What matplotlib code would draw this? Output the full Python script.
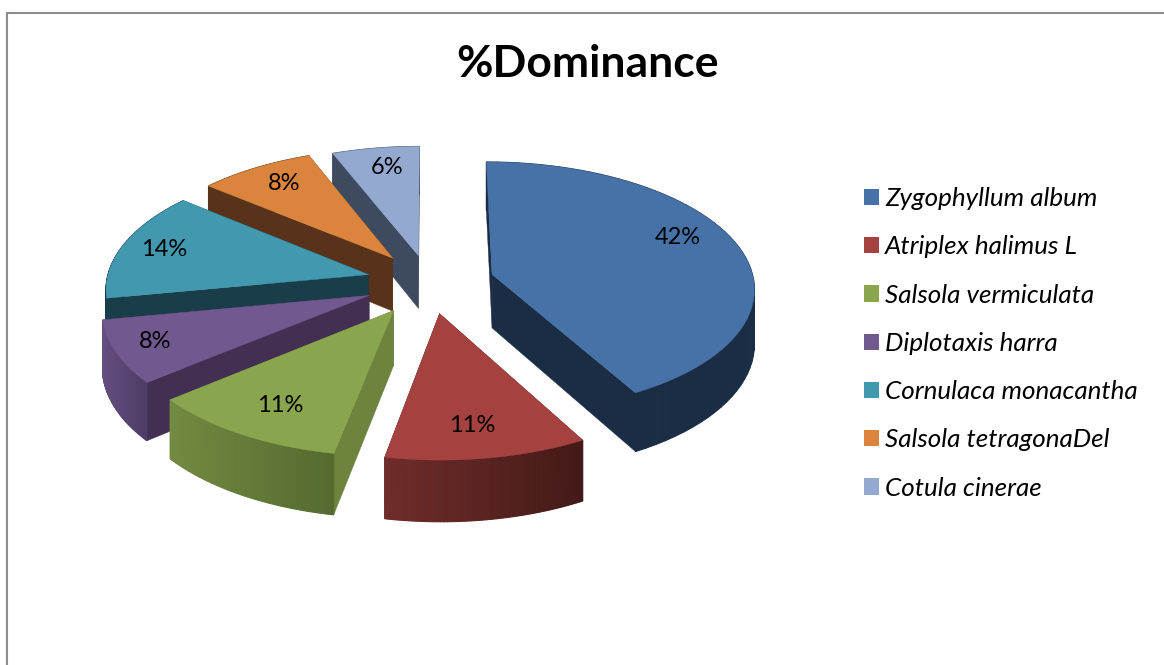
import numpy as np
import matplotlib
matplotlib.use("Agg")
import matplotlib.pyplot as plt
from matplotlib.patches import Polygon, Patch
from matplotlib.colors import to_rgb

plt.rcParams['font.family'] = ['Lato', 'DejaVu Sans']

# ---- data ----
species = ["Zygophyllum album", "Atriplex halimus L", "Salsola vermiculata",
           "Diplotaxis harra", "Cornulaca monacantha", "Salsola tetragonaDel",
           "Cotula cinerae"]
dominance = [42, 11, 11, 8, 14, 8, 6]
title = "%Dominance"

# ---- style ----
top_colors = ["#4672A8", "#A5423F", "#89A54E", "#71588F", "#4198AF", "#DB843D", "#93A9CF"]
wall_colors = ["#1A2D45", "#4A1C1A", "#6E843E", "#422F52", "#1A3D4A", "#58321A", "#3E4A60"]
arc_left = ["#1A2D45", "#6F2C2A", "#728A42", "#654E80", "#1A3D4A", "#58321A", "#3E4A60"]
arc_right = ["#1A2D45", "#431A18", "#546A2F", "#4C3B64", "#1A3D4A", "#58321A", "#3E4A60"]
explode = [0.25, 0.25, 0.26, 0.25, 0.24, 0.24, 0.22]
label_xy = [(678, 237), (472, 425), (280, 405), (155, 341), (164, 250), (284, 183), (387, 168)]
CX, CY, RX, RY, K, DEPTH = 429, 282, 262, 125, 0.10, 54

fig = plt.figure(figsize=(11.64, 6.65), dpi=100)
ax = fig.add_axes([0, 0, 1, 1])
ax.set_xlim(0, 1164)
ax.set_ylim(665, 0)
ax.axis("off")

ax.plot([6.5, 6.5, 1170], [670, 12.5, 12.5], color="#8C8C8C", lw=1.5, clip_on=True)


def project(u, v, drop=0.0):
    s = 1.0 / (1.0 - K * v)
    return np.column_stack([CX + RX * u * s, CY + RY * v * s + drop * s])


def mix(a, b, t):
    a, b = np.array(to_rgb(a)), np.array(to_rgb(b))
    return tuple(a + (b - a) * t)


fractions = np.array(dominance, float) / sum(dominance)
edges = np.concatenate([[0], np.cumsum(fractions)]) * 2 * np.pi
order = [6, 5, 4, 3, 2, 1, 0]
z = 2
for i in order:
    a0, a1 = edges[i], edges[i + 1]
    mid = (a0 + a1) / 2
    ou, ov = explode[i] * np.sin(mid), -explode[i] * np.cos(mid)
    th = np.linspace(a0, a1, 60)
    au, av = ou + np.sin(th), ov - np.cos(th)
    apex_top = project(np.array([ou]), np.array([ov]))
    apex_bot = project(np.array([ou]), np.array([ov]), DEPTH)
    arc_top = project(au, av)
    arc_bot = project(au, av, DEPTH)
    # radial walls
    for k in (0, -1):
        ax.add_patch(Polygon(np.vstack([apex_top, arc_top[k], arc_bot[k], apex_bot]),
                             closed=True, fc=wall_colors[i], ec=wall_colors[i], lw=0.3, zorder=z))
    z += 1
    # outer wall, shaded left to right
    xmin, xmax = arc_top[:, 0].min(), arc_top[:, 0].max()
    for j in range(len(th) - 1):
        t = ((arc_top[j, 0] + arc_top[j + 1, 0]) / 2 - xmin) / max(xmax - xmin, 1)
        c = mix(arc_left[i], arc_right[i], t)
        ax.add_patch(Polygon(np.vstack([arc_top[j], arc_top[j + 1], arc_bot[j + 1], arc_bot[j]]),
                             closed=True, fc=c, ec=c, lw=0.8, zorder=z))
    z += 1
    ax.add_patch(Polygon(np.vstack([apex_top, arc_top]), closed=True,
                         fc=top_colors[i], ec=top_colors[i], lw=0.3, zorder=z))
    z += 1

for val, (x, y) in zip(dominance, label_xy):
    ax.text(x, y, f"{val}%", ha="center", va="center", fontsize=17, color="black", zorder=100)

ax.text(588, 64, title, ha="center", va="center", fontsize=32, fontweight="bold", color="black")

handles = [Patch(fc=c, ec="none") for c in top_colors]
leg = ax.legend(handles, species, loc="upper left", bbox_to_anchor=(855 / 1164, 1 - 178 / 665),
                bbox_transform=fig.transFigure, frameon=False,
                prop={"size": 18.7, "style": "italic"}, handlelength=0.58, handleheight=0.58,
                handletextpad=0.23, labelspacing=0.973, borderpad=0.35, borderaxespad=0)

fig.savefig("out.png", dpi=100)
